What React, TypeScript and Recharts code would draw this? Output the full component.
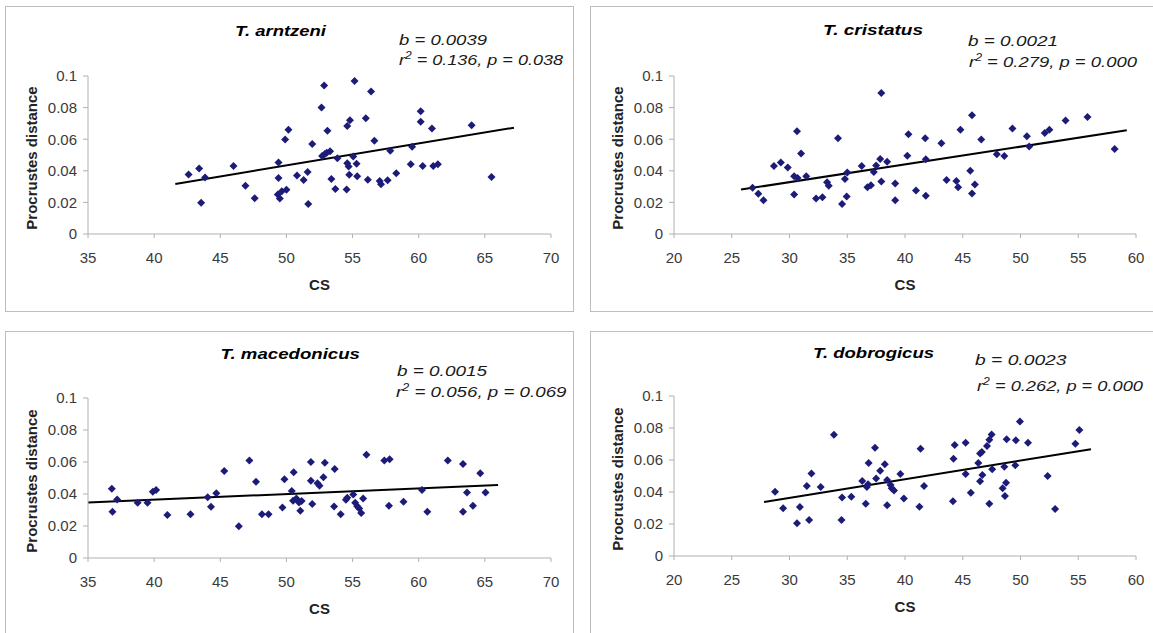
import { ScatterChart, Scatter, XAxis, YAxis, ReferenceLine } from "recharts";

const PD_TICKS = [0, 0.02, 0.04, 0.06, 0.08, 0.1];
const CS_TICKS_35_70 = [35, 40, 45, 50, 55, 60, 65, 70];
const CS_TICKS_20_60 = [20, 25, 30, 35, 40, 45, 50, 55, 60];

// T. arntzeni
const ARNTZENI_CS = [
  42.6, 43.4, 43.85, 43.55, 46.0, 46.9, 47.6, 49.4, 49.4, 49.35, 49.5, 49.65,
  50.0, 49.9, 50.15, 50.8, 51.3, 51.6, 51.65, 51.95, 52.65, 52.85, 52.7, 52.9,
  53.05, 53.3, 53.1, 53.4, 53.7, 53.85, 54.55, 54.6, 54.8, 54.6, 54.7, 54.75,
  55.05, 55.15, 55.3, 55.35, 56.0, 56.15, 56.4, 56.65, 57.05, 57.15, 57.65,
  57.85, 58.3, 59.5, 59.4, 60.15, 60.15, 60.3, 61.0, 61.1, 61.45, 64.0, 65.5,
];
const ARNTZENI_PD = [
  0.0377, 0.0415, 0.0358, 0.0198, 0.0431, 0.0306, 0.0227, 0.0452, 0.0354,
  0.025, 0.0225, 0.027, 0.028, 0.0598, 0.066, 0.0371, 0.0342, 0.0392, 0.019,
  0.0569, 0.08, 0.094, 0.0494, 0.0506, 0.0515, 0.0524, 0.0654, 0.0348, 0.0285,
  0.0479, 0.0281, 0.0683, 0.072, 0.0448, 0.0427, 0.0375, 0.049, 0.0969, 0.0444,
  0.0365, 0.0733, 0.0344, 0.0902, 0.059, 0.0335, 0.0315, 0.034, 0.0527, 0.0385,
  0.0552, 0.0442, 0.0777, 0.071, 0.0431, 0.0667, 0.0431, 0.0442, 0.0688, 0.036,
];
const ARNTZENI_FIT_CS = [41.6, 67.2];
const ARNTZENI_FIT_PD = [0.0317, 0.0673];

// T. cristatus
const CRISTATUS_CS = [
  26.8, 27.3, 27.75, 28.65, 29.25, 29.85, 30.4, 30.4, 30.65, 30.7, 31.0, 31.45,
  32.3, 32.85, 33.25, 33.4, 34.2, 34.55, 34.8, 34.95, 35.0, 36.25, 36.75, 37.05,
  37.3, 37.5, 37.85, 37.95, 37.95, 38.45, 39.15, 39.15, 40.2, 40.3, 40.95,
  41.75, 41.8, 41.8, 43.15, 43.6, 44.45, 44.6, 44.8, 45.65, 45.8, 45.8, 46.05,
  46.6, 47.95, 48.6, 49.3, 50.55, 50.75, 52.1, 52.5, 53.9, 55.8, 58.15,
];
const CRISTATUS_PD = [
  0.0292, 0.0254, 0.0213, 0.0431, 0.0452, 0.0421, 0.0365, 0.025, 0.065, 0.0354,
  0.051, 0.0365, 0.0225, 0.0233, 0.0327, 0.0306, 0.0606, 0.019, 0.0348, 0.0238,
  0.039, 0.0431, 0.0296, 0.0308, 0.0392, 0.0433, 0.0475, 0.0892, 0.0333,
  0.0458, 0.0319, 0.0213, 0.0496, 0.0631, 0.0275, 0.0606, 0.0473, 0.0242,
  0.0575, 0.0342, 0.0335, 0.0296, 0.066, 0.04, 0.0752, 0.0256, 0.0313, 0.0598,
  0.0504, 0.0494, 0.0667, 0.0619, 0.0554, 0.064, 0.066, 0.0719, 0.074, 0.0538,
];
const CRISTATUS_FIT_CS = [25.8, 59.2];
const CRISTATUS_FIT_PD = [0.0281, 0.0656];

// T. macedonicus
const MACEDONICUS_CS = [
  36.8, 36.85, 37.2, 38.75, 39.5, 39.9, 40.15, 41.0, 42.75, 44.05, 44.3, 44.7,
  45.3, 46.4, 47.2, 47.7, 48.15, 48.65, 49.7, 49.85, 50.4, 50.55, 50.5, 50.75,
  50.95, 51.05, 51.15, 51.85, 51.85, 51.95, 52.35, 52.5, 52.8, 52.9, 53.65,
  53.6, 54.1, 54.5, 54.6, 55.05, 55.2, 55.35, 55.5, 55.65, 55.8, 56.05, 57.4,
  57.8, 57.75, 58.85, 60.25, 60.65, 62.2, 63.35, 63.35, 63.65, 64.1, 64.65,
  65.05,
];
const MACEDONICUS_PD = [
  0.0433, 0.0289, 0.0366, 0.0345, 0.0345, 0.0414, 0.0425, 0.0268, 0.0274,
  0.0379, 0.032, 0.0404, 0.0544, 0.0199, 0.0609, 0.0477, 0.0274, 0.0274,
  0.0316, 0.0492, 0.0418, 0.0536, 0.0358, 0.0372, 0.0347, 0.0295, 0.0356, 0.06,
  0.0483, 0.0337, 0.0467, 0.0452, 0.0504, 0.0596, 0.0556, 0.0322, 0.0274,
  0.0364, 0.0377, 0.0397, 0.0345, 0.0324, 0.031, 0.0282, 0.0372, 0.0646,
  0.0609, 0.0617, 0.0326, 0.0351, 0.0425, 0.0289, 0.0609, 0.0588, 0.0289,
  0.041, 0.0326, 0.0529, 0.041,
];
const MACEDONICUS_FIT_CS = [35.0, 66.0];
const MACEDONICUS_FIT_PD = [0.0347, 0.0456];

// T. dobrogicus
const DOBROGICUS_CS = [
  28.75, 29.45, 30.65, 30.9, 31.5, 31.7, 31.9, 32.7, 33.85, 34.5, 34.55, 35.35,
  36.3, 36.6, 36.7, 36.8, 36.85, 37.4, 37.5, 37.85, 38.25, 38.45, 38.45, 38.75,
  38.85, 39.05, 39.6, 39.9, 41.35, 41.25, 41.65, 44.3, 44.2, 44.15, 45.25,
  45.25, 45.7, 46.35, 46.5, 46.65, 46.5, 46.7, 47.1, 47.3, 47.5, 47.3, 47.55,
  48.45, 48.6, 48.65, 48.75, 48.8, 49.55, 49.6, 49.95, 50.65, 52.35, 53.0,
  54.75, 55.1,
];
const DOBROGICUS_PD = [
  0.0402, 0.0298, 0.0204, 0.0306, 0.0438, 0.0225, 0.0515, 0.0431, 0.0758,
  0.0225, 0.0365, 0.0371, 0.0469, 0.0327, 0.0431, 0.0448, 0.0581, 0.0677,
  0.0485, 0.0533, 0.0573, 0.0475, 0.0317, 0.0444, 0.0423, 0.041, 0.0513, 0.036,
  0.0671, 0.0308, 0.0438, 0.0694, 0.0608, 0.0342, 0.0708, 0.0513, 0.0396,
  0.0581, 0.064, 0.065, 0.0467, 0.0506, 0.0688, 0.0727, 0.076, 0.0327, 0.0542,
  0.0423, 0.0558, 0.0375, 0.0458, 0.0729, 0.0567, 0.0723, 0.084, 0.0708, 0.05,
  0.0294, 0.0702, 0.0788,
];
const DOBROGICUS_FIT_CS = [27.8, 56.1];
const DOBROGICUS_FIT_PD = [0.0338, 0.0667];

const SPECIES = ["T. arntzeni", "T. cristatus", "T. macedonicus", "T. dobrogicus"];
const SLOPES = ["0.0039", "0.0021", "0.0015", "0.0023"];
const R_SQUARED = ["0.136", "0.279", "0.056", "0.262"];
const P_VALUES = ["0.038", "0.000", "0.069", "0.000"];

const FONT = "'Liberation Sans', Arial, sans-serif";
const MARKER = "#1c1c78";
const AXIS = "#b0b0b0";

const LAYOUT = [
  {
    box: { left: 5, top: 6, width: 569, height: 306 },
    plot: { left: 88, top: 76, right: 551, bottom: 234 },
    title: [235, 36, 91],
    slope: [399, 45, 88],
    stats: [399, 64.5, 164],
  },
  {
    box: { left: 590, top: 6, width: 572, height: 306 },
    plot: { left: 674, top: 76, right: 1136, bottom: 234 },
    title: [823, 34.5, 100],
    slope: [968, 45.5, 90],
    stats: [969, 66.7, 168],
  },
  {
    box: { left: 5, top: 331, width: 569, height: 310 },
    plot: { left: 88, top: 398, right: 551, bottom: 558 },
    title: [220.5, 358.7, 139.5],
    slope: [397, 376, 90],
    stats: [396, 397, 170.5],
  },
  {
    box: { left: 590, top: 331, width: 572, height: 310 },
    plot: { left: 674, top: 396, right: 1136, bottom: 556 },
    title: [813, 357.5, 121],
    slope: [975, 365, 91.5],
    stats: [977, 391, 166],
  },
];

function Diamond(props: any) {
  const { cx, cy } = props;
  if (cx == null || cy == null) return <g />;
  const r = 4;
  return (
    <path
      d={`M${cx},${cy - r}L${cx + r},${cy}L${cx},${cy + r}L${cx - r},${cy}Z`}
      fill={MARKER}
    />
  );
}

function csLabel(props: any) {
  const vb = props.viewBox;
  return (
    <text
      x={vb.x + vb.width / 2}
      y={vb.y + 55.5}
      textAnchor="middle"
      fontFamily={FONT}
      fontSize={15}
      fontWeight="bold"
      fill="#222"
    >
      CS
    </text>
  );
}

function pdLabel(props: any) {
  const vb = props.viewBox;
  const cx = vb.x + vb.width - 56;
  const cy = vb.y + vb.height / 2 + 3;
  return (
    <text
      x={cx}
      y={cy}
      dy="0.36em"
      transform={`rotate(-90 ${cx} ${cy})`}
      textAnchor="middle"
      fontFamily={FONT}
      fontSize={15}
      fontWeight="bold"
      fill="#222"
    >
      Procrustes distance
    </text>
  );
}

type PanelProps = {
  idx: number;
  cs: number[];
  pd: number[];
  fitCs: number[];
  fitPd: number[];
  csTicks: number[];
};

function Panel({ idx, cs, pd, fitCs, fitPd, csTicks }: PanelProps) {
  const { box, plot } = LAYOUT[idx];
  const points = cs.map((x, i) => ({ x, y: pd[i] }));

  return (
    <>
      <div
        style={{
          position: "absolute",
          left: box.left,
          top: box.top,
          width: box.width,
          height: box.height,
          border: "1px solid #bdbdbd",
          boxSizing: "border-box",
        }}
      />
      <div style={{ position: "absolute", left: box.left, top: box.top }}>
        <ScatterChart
          width={box.width}
          height={box.height}
          margin={{
            top: plot.top - box.top,
            right: box.left + box.width - plot.right,
            bottom: 0,
            left: 0,
          }}
        >
          <XAxis
            type="number"
            dataKey="x"
            domain={[csTicks[0], csTicks[csTicks.length - 1]]}
            ticks={csTicks}
            interval={0}
            height={box.top + box.height - plot.bottom}
            stroke={AXIS}
            tickSize={4}
            tickMargin={14}
            tick={{ fill: "#3a3a3a", fontSize: 15, fontFamily: FONT }}
            label={{ value: "CS", content: csLabel }}
          />
          <YAxis
            type="number"
            dataKey="y"
            domain={[0, 0.1]}
            ticks={PD_TICKS}
            interval={0}
            width={plot.left - box.left}
            stroke={AXIS}
            tickSize={5}
            tickMargin={6}
            tick={{ fill: "#3a3a3a", fontSize: 15, fontFamily: FONT }}
            label={{ value: "Procrustes distance", content: pdLabel }}
          />
          <Scatter data={points} shape={Diamond} isAnimationActive={false} />
          <ReferenceLine
            segment={[
              { x: fitCs[0], y: fitPd[0] },
              { x: fitCs[1], y: fitPd[1] },
            ]}
            stroke="#000"
            strokeWidth={2}
          />
        </ScatterChart>
      </div>
    </>
  );
}

function Annotations() {
  return (
    <svg
      width={1153}
      height={633}
      style={{ position: "absolute", left: 0, top: 0, pointerEvents: "none" }}
    >
      {LAYOUT.map((l, i) => (
        <g key={i} fontFamily={FONT} fontSize={15}>
          <text
            x={l.title[0]}
            y={l.title[1]}
            textLength={l.title[2]}
            lengthAdjust="spacingAndGlyphs"
            fontWeight="bold"
            fontStyle="italic"
            fill="#000"
          >
            {SPECIES[i]}
          </text>
          <text
            x={l.slope[0]}
            y={l.slope[1]}
            textLength={l.slope[2]}
            lengthAdjust="spacingAndGlyphs"
            fontStyle="italic"
            fill="#1a1a1a"
          >
            {`b = ${SLOPES[i]}`}
          </text>
          <text
            x={l.stats[0]}
            y={l.stats[1]}
            textLength={l.stats[2]}
            lengthAdjust="spacingAndGlyphs"
            fontStyle="italic"
            fill="#1a1a1a"
          >
            r
            <tspan fontSize={10} dy={-6}>
              2
            </tspan>
            <tspan dy={6}>{` = ${R_SQUARED[i]}, p = ${P_VALUES[i]}`}</tspan>
          </text>
        </g>
      ))}
    </svg>
  );
}

export default function App() {
  return (
    <div
      style={{
        position: "absolute",
        left: 0,
        top: 0,
        width: 1153,
        height: 633,
        overflow: "hidden",
        background: "#fff",
      }}
    >
      <Panel idx={0} cs={ARNTZENI_CS} pd={ARNTZENI_PD} fitCs={ARNTZENI_FIT_CS} fitPd={ARNTZENI_FIT_PD} csTicks={CS_TICKS_35_70} />
      <Panel idx={1} cs={CRISTATUS_CS} pd={CRISTATUS_PD} fitCs={CRISTATUS_FIT_CS} fitPd={CRISTATUS_FIT_PD} csTicks={CS_TICKS_20_60} />
      <Panel idx={2} cs={MACEDONICUS_CS} pd={MACEDONICUS_PD} fitCs={MACEDONICUS_FIT_CS} fitPd={MACEDONICUS_FIT_PD} csTicks={CS_TICKS_35_70} />
      <Panel idx={3} cs={DOBROGICUS_CS} pd={DOBROGICUS_PD} fitCs={DOBROGICUS_FIT_CS} fitPd={DOBROGICUS_FIT_PD} csTicks={CS_TICKS_20_60} />
      <Annotations />
    </div>
  );
}
